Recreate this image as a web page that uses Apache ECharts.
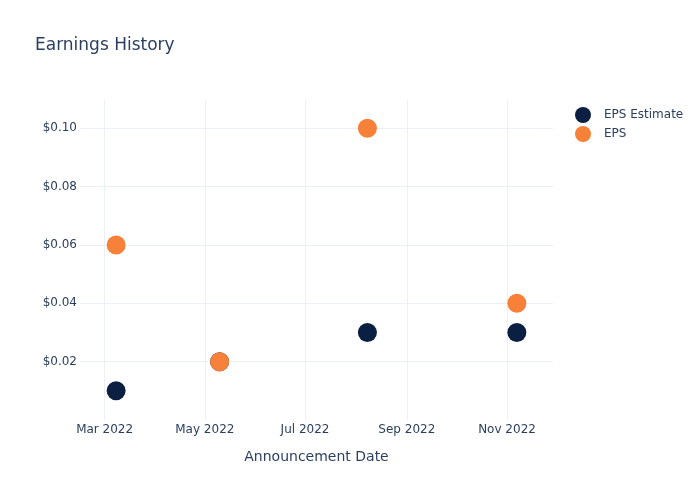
<!DOCTYPE html>
<html><head><meta charset="utf-8">
<script src="https://cdn.jsdelivr.net/npm/echarts@6/dist/echarts.min.js"></script>
<style>html,body{margin:0;padding:0;background:#fff}#c{width:700px;height:500px}</style>
</head><body><div id="c"></div>
<script>
const dates = ['2022-03-08', '2022-05-10', '2022-08-08', '2022-11-07'];
const epsEstimate = [0.01, 0.02, 0.03, 0.03];
const eps = [0.06, 0.02, 0.10, 0.04];
const xTicks = ['2022-03-01', '2022-05-01', '2022-07-01', '2022-09-01', '2022-11-01'];
const yTicks = [0.02, 0.04, 0.06, 0.08, 0.10];
const months = ['Jan','Feb','Mar','Apr','May','Jun','Jul','Aug','Sep','Oct','Nov','Dec'];

const font = 'DejaVu Sans, Verdana, sans-serif';
const textColor = '#2a3f5f';
const gridColor = '#ebf0f8';
const ts = d => +new Date(d + 'T00:00:00Z');
const xTickTs = xTicks.map(ts);

const chart = echarts.init(document.getElementById('c'), null, {renderer: 'canvas'});
chart.setOption({
  animation: false,
  backgroundColor: '#fff',
  textStyle: {fontFamily: font},
  title: {
    text: 'Earnings History', left: 35, top: 37, padding: 0,
    textStyle: {fontFamily: font, fontSize: 17, fontWeight: 'normal', color: textColor}
  },
  legend: {
    orient: 'vertical', left: 575, top: 107, itemGap: 3, padding: 0,
    icon: 'circle', itemWidth: 16, itemHeight: 16,
    textStyle: {fontFamily: font, fontSize: 12, color: textColor, padding: [0, 0, 0, 8]},
    data: ['EPS Estimate', 'EPS']
  },
  grid: {left: 80, right: 147, top: 100, bottom: 80, containLabel: false},
  xAxis: {
    type: 'value',
    min: ts('2022-02-14'),
    max: ts('2022-11-29'),
    name: 'Announcement Date', nameLocation: 'middle', nameGap: 30,
    nameTextStyle: {fontFamily: font, fontSize: 14, color: textColor},
    axisLine: {show: false}, axisTick: {show: false, customValues: xTickTs},
    axisLabel: {
      customValues: xTickTs, margin: 4, fontFamily: font, fontSize: 12, color: textColor,
      formatter: v => { const d = new Date(v); return months[d.getUTCMonth()] + ' ' + d.getUTCFullYear(); }
    },
    splitLine: {show: true, lineStyle: {color: gridColor, width: 1}}
  },
  yAxis: {
    type: 'value', min: 0, max: 0.1097,
    axisLine: {show: false}, axisTick: {show: false, customValues: yTicks},
    axisLabel: {
      customValues: yTicks, margin: 3, fontFamily: font, fontSize: 12, color: textColor,
      formatter: v => '$' + v.toFixed(2)
    },
    splitLine: {show: true, lineStyle: {color: gridColor, width: 1}}
  },
  series: [
    {name: 'EPS Estimate', type: 'scatter', symbolSize: 19,
     itemStyle: {color: '#0b1f42', opacity: 1},
     data: dates.map((d, i) => [ts(d), epsEstimate[i]])},
    {name: 'EPS', type: 'scatter', symbolSize: 19,
     itemStyle: {color: '#f78139', opacity: 1},
     data: dates.map((d, i) => [ts(d), eps[i]])}
  ]
});
</script></body></html>
